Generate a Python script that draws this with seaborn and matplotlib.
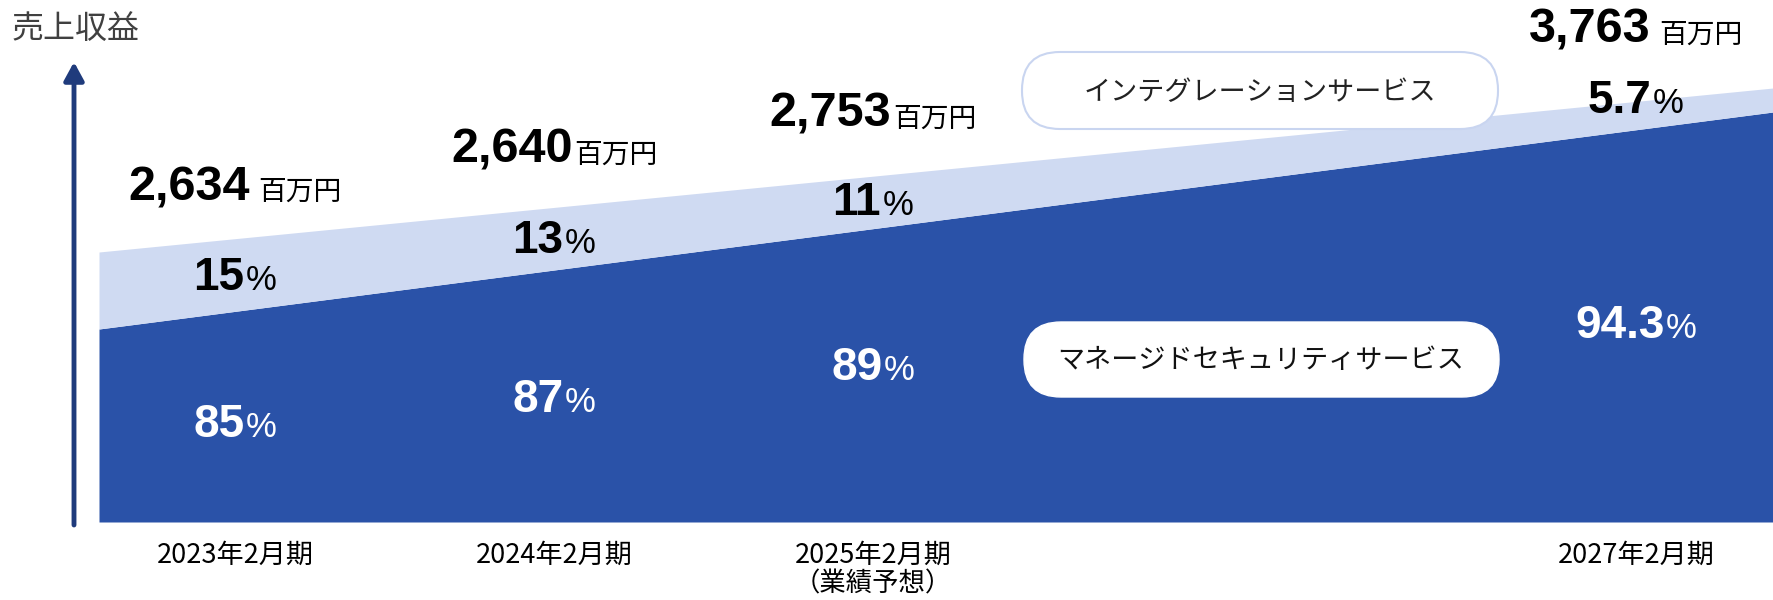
import matplotlib.pyplot as plt
import seaborn as sns
from matplotlib.offsetbox import TextArea, HPacker, AnnotationBbox
from matplotlib.patches import FancyBboxPatch

# --- data ---
periods = ['2023年2月期', '2024年2月期', '2025年2月期', '2027年2月期']
period_notes = ['', '', '（業績予想）', '']
totals = ['2,634', '2,640', '2,753', '3,763']
total_unit = '百万円'
managed_pct = ['85', '87', '89', '94.3']
integration_pct = ['15', '13', '11', '5.7']
series_names = ['マネージドセキュリティサービス', 'インテグレーションサービス']
y_title = '売上収益'

# schematic band heights, read at the left and right end of the area
band_x = [99, 1773]
band_total = [270, 434]
band_managed = [193, 410]

# --- layout (pixel-like units, baseline of the area = 0) ---
period_x = [235, 554, 873, 1636]
total_y = [322, 359, 395, 479]
total_gap = [6, 1, 1, 6]
integ_y = [232, 269, 307, 409]
managed_y = [85, 110, 142, 184]

DARK = '#2a52a8'
LIGHT = '#cfdaf2'
NAVY = '#1f3b7c'

sns.set_theme(style='white')
plt.rcParams['font.family'] = ['Noto Sans CJK JP', 'DejaVu Sans']

fig = plt.figure(figsize=(17.73, 6), dpi=100)
ax = fig.add_axes([0, 0, 1, 1])
ax.set_xlim(0, 1773)
ax.set_ylim(-78, 522)
ax.axis('off')

# stacked bands
ax.fill_between(band_x, 0, band_managed, color=DARK, lw=0)
ax.fill_between(band_x, band_managed, band_total, color=LIGHT, lw=0)

# y arrow + title
ax.annotate('', xy=(74, 460), xytext=(74, -3),
            arrowprops=dict(arrowstyle='-|>,head_length=0.55,head_width=0.3',
                            mutation_scale=20, lw=3.5, color=NAVY,
                            shrinkA=0, shrinkB=0))
ax.text(12, 493, y_title, ha='left', va='center', fontsize=23, color='#404040')


def num_label(x, y, big, small, big_size, small_size, color, sep, small_font):
    a = TextArea(big, textprops=dict(fontsize=big_size, fontweight='bold',
                                     color=color, family='Liberation Sans'))
    b = TextArea(small, textprops=dict(fontsize=small_size, color=color,
                                       family=small_font))
    box = HPacker(children=[a, b], align='baseline', pad=0, sep=sep)
    ab = AnnotationBbox(box, (x, y - 10), xycoords='data', frameon=False,
                        box_alignment=(0.5, 0), pad=0)
    ax.add_artist(ab)


for i in range(len(periods)):
    num_label(period_x[i], total_y[i], totals[i], total_unit, 35, 20,
              'black', total_gap[i], 'Noto Sans CJK JP')
    num_label(period_x[i], integ_y[i], integration_pct[i], '%', 33, 25,
              'black', 1, 'Liberation Sans')
    num_label(period_x[i], managed_y[i], managed_pct[i], '%', 33, 25,
              'white', 1, 'Liberation Sans')
    ax.text(period_x[i], -33, periods[i], ha='center', va='center',
            fontsize=19.5, color='black')
    if period_notes[i]:
        ax.text(period_x[i], -62, period_notes[i], ha='center', va='center',
                fontsize=19, color='black')

# series labels in pills
pill1 = FancyBboxPatch((1022, 393), 476, 77, boxstyle='round,pad=0,rounding_size=38',
                       fc='white', ec='#c9d5f0', lw=1.5)
ax.add_patch(pill1)
ax.text(1260, 429, series_names[1], ha='center', va='center', fontsize=19.5, color='#222222')

pill2 = FancyBboxPatch((1024, 125), 475, 75, boxstyle='round,pad=0,rounding_size=37',
                       fc='white', ec='white', lw=1)
ax.add_patch(pill2)
ax.text(1261, 162, series_names[0], ha='center', va='center', fontsize=19.5, color='#111111')

fig.savefig('out.png', dpi=100)
